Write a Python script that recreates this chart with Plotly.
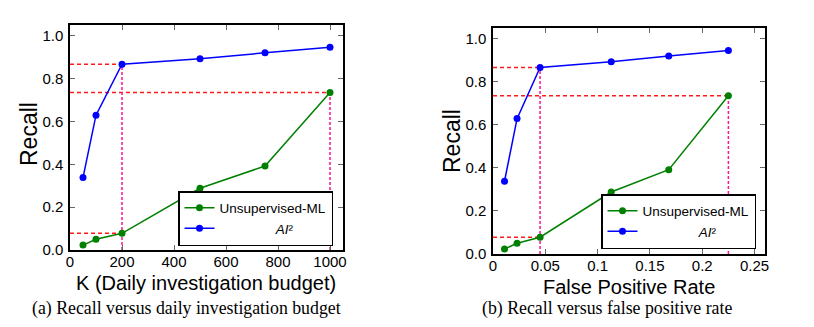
import plotly.graph_objects as go

# ---- data ----
budget_k = [50, 100, 200, 500, 750, 1000]
fpr = [0.011, 0.023, 0.045, 0.113, 0.168, 0.225]
recall_ai2 = [0.338, 0.629, 0.867, 0.893, 0.920, 0.946]
recall_unsup = [0.023, 0.050, 0.078, 0.288, 0.392, 0.735]

y_ticks = [0.0, 0.2, 0.4, 0.6, 0.8, 1.0]
xa_ticks = [0, 200, 400, 600, 800, 1000]
xb_ticks = [0, 0.05, 0.1, 0.15, 0.2, 0.25]
xb_ticktext = ["0", "0.05", "0.1", "0.15", "0.2", "0.25"]

name_unsup = "Unsupervised-ML"
name_ai2 = "\u00a0" * 15 + "<i>AI</i>\u00b2"

title_xa = "K (Daily investigation budget)"
title_xb = "False Positive Rate"
title_y = "Recall"
caption_a = "(a) Recall versus daily investigation budget"
caption_b = "(b) Recall versus false positive rate"

# guide points: (series, index) for dashed reference lines
guide_h = [(recall_ai2, 2), (recall_unsup, 5), (recall_unsup, 2)]
guide_v = [(recall_ai2, 2), (recall_unsup, 5)]

GREEN = "#008000"
BLUE = "#0000ff"
RED = "#ff1a1a"
PINK = "#ff1493"

fig = go.Figure()

def add_panel(xvals, xa, ya, legend):
    for series, i in guide_h:
        fig.add_trace(go.Scatter(x=[0, xvals[i]], y=[series[i], series[i]], mode="lines",
                                 line=dict(color=RED, width=1.5, dash="4px,3px"),
                                 xaxis=xa, yaxis=ya, showlegend=False, hoverinfo="skip"))
    for series, i in guide_v:
        fig.add_trace(go.Scatter(x=[xvals[i], xvals[i]], y=[0, series[i]], mode="lines",
                                 line=dict(color=PINK, width=1.5, dash="3px,2px"),
                                 xaxis=xa, yaxis=ya, showlegend=False, hoverinfo="skip"))
    fig.add_trace(go.Scatter(x=xvals, y=recall_unsup, mode="lines+markers", name=name_unsup,
                             line=dict(color=GREEN, width=1.5), marker=dict(color=GREEN, size=7),
                             xaxis=xa, yaxis=ya, legend=legend))
    fig.add_trace(go.Scatter(x=xvals, y=recall_ai2, mode="lines+markers", name=name_ai2,
                             line=dict(color=BLUE, width=1.5), marker=dict(color=BLUE, size=7),
                             xaxis=xa, yaxis=ya, legend=legend))

add_panel(budget_k, "x", "y", "legend")
add_panel(fpr, "x2", "y2", "legend2")

W, H = 814, 327
axis_common = dict(showline=True, linecolor="black", linewidth=1.5, mirror="allticks",
                   ticks="inside", ticklen=5, tickwidth=1, tickcolor="#666666",
                   showgrid=False, zeroline=False, automargin=False,
                   tickfont=dict(family="Liberation Sans", size=15, color="black"))

legend_common = dict(xanchor="right", yanchor="bottom",
                     bgcolor="white", bordercolor="black", borderwidth=1.5,
                     font=dict(family="Liberation Sans", size=13.5, color="black"),
                     itemwidth=30, tracegroupgap=0)

def txt(text, x, y, size, family="Liberation Sans", angle=0):
    return dict(text=text, x=x / W, y=1 - y / H, xref="paper", yref="paper",
                xanchor="center", yanchor="middle", showarrow=False, textangle=angle,
                font=dict(family=family, size=size, color="black"))

fig.update_layout(
    width=W, height=H, margin=dict(l=0, r=0, t=0, b=0),
    paper_bgcolor="white", plot_bgcolor="white",
    xaxis=dict(domain=[70 / W, 343 / W], range=[0, 1050], tickvals=xa_ticks,
               ticklabelstandoff=-3, anchor="y", **axis_common),
    yaxis=dict(domain=[1 - 250 / H, 1 - 25 / H], range=[0, 1.05], tickvals=y_ticks, tickformat=".1f",
               ticklabelstandoff=2, anchor="x", **axis_common),
    xaxis2=dict(domain=[493 / W, 765 / W], range=[0, 0.26], tickvals=xb_ticks, ticktext=xb_ticktext,
                ticklabelstandoff=-3, anchor="y2", **axis_common),
    yaxis2=dict(domain=[1 - 254 / H, 1 - 28 / H], range=[0, 1.05], tickvals=y_ticks, tickformat=".1f",
                ticklabelstandoff=2, anchor="x2", **axis_common),
    legend=dict(x=333 / W, y=1 - 246 / H, **legend_common),
    legend2=dict(x=756 / W, y=1 - 249 / H, **legend_common),
    annotations=[
        txt(title_xa, 206, 283, 20),
        txt(title_xb, 629, 287, 20),
        txt(title_y, 29, 134, 23, angle=-90),
        txt(title_y, 452, 141, 23, angle=-90),
        txt(caption_a, 186, 308, 17.8, family="Liberation Serif"),
        txt(caption_b, 607, 308, 17.8, family="Liberation Serif"),
    ],
)

fig.write_html("out.html")
